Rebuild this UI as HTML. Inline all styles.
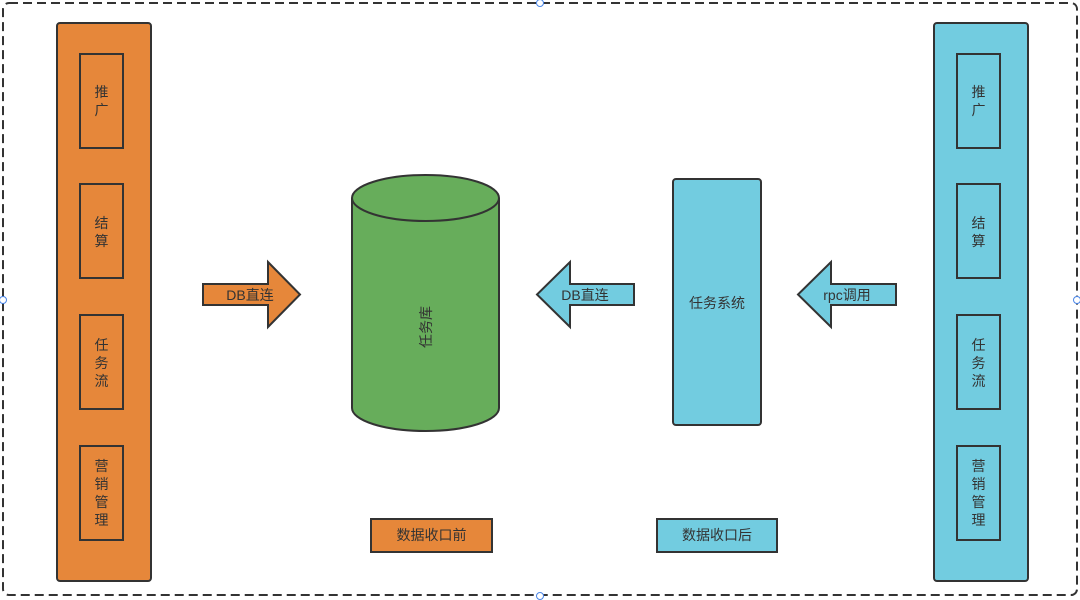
<!DOCTYPE html>
<html><head><meta charset="utf-8"><style>
html,body{margin:0;padding:0;background:#fff;width:1080px;height:600px;overflow:hidden}
text{font-family:"Liberation Sans","Noto Sans CJK SC",sans-serif;font-size:14px;fill:#333}
</style></head><body>
<svg width="1080" height="600" viewBox="0 0 1080 600" xmlns="http://www.w3.org/2000/svg">
<rect x="3" y="3" width="1074" height="592" rx="6" fill="none" stroke="#333" stroke-width="2" stroke-dasharray="9,5"/>
<g fill="#fff" stroke="#4a86e8" stroke-width="1"><circle cx="540" cy="3" r="3.5"/><circle cx="3" cy="300" r="3.5"/><circle cx="1077" cy="300" r="3.5"/><circle cx="540" cy="596" r="3.5"/></g>

<g stroke="#333" stroke-width="2">
<rect x="57" y="23" width="94" height="558" rx="3" fill="#E6873A"/>
<rect x="80" y="54" width="43" height="94" fill="none"/>
<rect x="80" y="184" width="43" height="94" fill="none"/>
<rect x="80" y="315" width="43" height="94" fill="none"/>
<rect x="80" y="446" width="43" height="94" fill="none"/>
<rect x="934" y="23" width="94" height="558" rx="3" fill="#72CCE0"/>
<rect x="957" y="54" width="43" height="94" fill="none"/>
<rect x="957" y="184" width="43" height="94" fill="none"/>
<rect x="957" y="315" width="43" height="94" fill="none"/>
<rect x="957" y="446" width="43" height="94" fill="none"/>
<path d="M352,198 L352,408 A73.5,23 0 0 0 499,408 L499,198 A73.5,23 0 0 0 352,198 Z" fill="#67AD5B"/>
<path d="M352,198 A73.5,23 0 0 0 499,198" fill="none"/>
<rect x="673" y="179" width="88" height="246" rx="3" fill="#72CCE0"/>
<path d="M203,284 L268,284 L268,262 L300,294.5 L268,327 L268,305 L203,305 Z" fill="#E6873A"/>
<path d="M634,284 L570,284 L570,262 L537,294.5 L570,327 L570,305 L634,305 Z" fill="#72CCE0"/>
<path d="M896,284 L831,284 L831,262 L798,294.5 L831,327 L831,305 L896,305 Z" fill="#72CCE0"/>
<rect x="371" y="519" width="121" height="33" fill="#E6873A"/>
<rect x="657" y="519" width="120" height="33" fill="#72CCE0"/>
</g>

<g text-anchor="middle">
<text x="101.5" y="97">推</text><text x="101.5" y="115">广</text>
<text x="101.5" y="228">结</text><text x="101.5" y="246">算</text>
<text x="101.5" y="350">任</text><text x="101.5" y="368">务</text><text x="101.5" y="386">流</text>
<text x="101.5" y="471">营</text><text x="101.5" y="489">销</text><text x="101.5" y="507">管</text><text x="101.5" y="525">理</text>
<text x="978.5" y="97">推</text><text x="978.5" y="115">广</text>
<text x="978.5" y="228">结</text><text x="978.5" y="246">算</text>
<text x="978.5" y="350">任</text><text x="978.5" y="368">务</text><text x="978.5" y="386">流</text>
<text x="978.5" y="471">营</text><text x="978.5" y="489">销</text><text x="978.5" y="507">管</text><text x="978.5" y="525">理</text>
<text x="250" y="300">DB直连</text>
<text x="585" y="300">DB直连</text>
<text x="847" y="300">rpc调用</text>
<text x="717" y="308">任务系统</text>
<text x="431.5" y="540">数据收口前</text>
<text x="717" y="540">数据收口后</text>
<text x="0" y="0" transform="translate(431,327) rotate(-90)">任务库</text>
</g>
</svg>
</body></html>
